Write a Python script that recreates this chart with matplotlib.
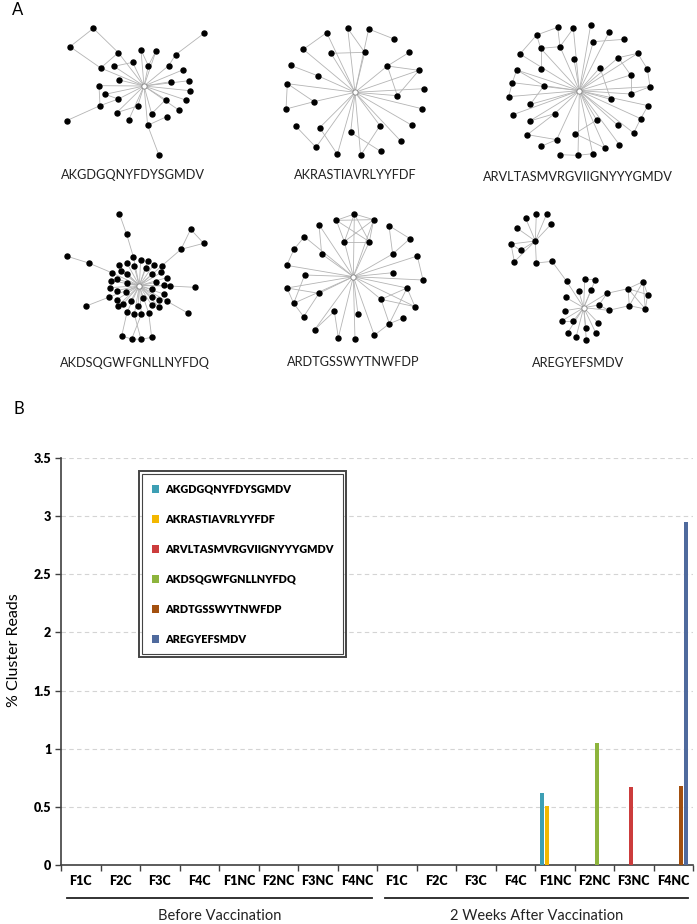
import numpy as np
import matplotlib
matplotlib.use("Agg")
import matplotlib.pyplot as plt
from matplotlib.collections import LineCollection
from matplotlib.patches import Rectangle
import matplotlib.transforms as mtransforms

plt.rcParams['font.family'] = ['Lato', 'DejaVu Sans']

# ---------------- panel A: cluster networks ----------------
# node layouts (layout units, 3 units = 1 px), index 0 is the centre node
net1_nodes = [(432, 258), (280, 85), (210, 140), (612, 100), (355, 158), (423, 150), (468, 153),
              (527, 164), (302, 204), (342, 199), (398, 187), (445, 197), (506, 197), (550, 209),
              (358, 240), (297, 257), (513, 245), (568, 242), (315, 283), (355, 297), (569, 272),
              (557, 300), (300, 317), (413, 318), (497, 299), (536, 330), (350, 338), (455, 341),
              (386, 360), (500, 350), (443, 376), (200, 362), (477, 466)]
net1_spokes = [4, 5, 6, 8, 9, 10, 11, 12, 13, 14, 15, 16, 17, 18, 19, 20, 21, 23, 24, 25, 26,
               27, 28, 30]
net1_links = [(1, 2), (1, 4), (2, 8), (3, 7), (7, 12), (6, 11), (9, 10), (4, 8), (15, 22),
              (18, 19), (19, 22), (22, 31), (23, 26), (24, 27), (29, 30), (30, 32), (11, 5)]

net2_nodes = [(345, 277), (260, 98), (323, 85), (386, 87), (462, 117), (190, 148), (273, 160),
              (374, 157), (508, 157), (152, 196), (442, 198), (537, 211), (235, 228), (142, 251),
              (552, 266), (472, 287), (222, 305), (138, 327), (545, 326), (167, 378), (239, 383),
              (420, 377), (516, 376), (332, 397), (483, 424), (228, 442), (292, 463), (362, 466),
              (422, 454)]
net2_spokes = [1, 2, 3, 5, 6, 7, 10, 11, 12, 13, 14, 15, 16, 18, 20, 21, 22, 23, 24, 25, 26, 27]
net2_links = [(1, 5), (2, 7), (3, 4), (6, 7), (8, 10), (10, 11), (10, 15), (11, 15), (9, 12),
              (13, 16), (13, 17), (17, 16), (19, 25), (20, 26), (23, 28), (21, 27)]

net3_nodes = [(328, 272), (263, 82), (310, 85), (362, 75), (418, 95), (200, 105), (212, 145),
              (270, 140), (370, 125), (462, 118), (150, 162), (312, 178), (503, 160), (445, 173),
              (140, 210), (212, 208), (390, 203), (532, 207), (482, 225), (127, 248), (222, 257),
              (540, 260), (116, 290), (482, 282), (422, 298), (181, 313), (534, 317), (129, 344),
              (254, 341), (179, 363), (380, 360), (512, 356), (443, 376), (172, 404), (315, 401),
              (260, 419), (491, 399), (213, 439), (405, 444), (448, 434), (270, 464), (324, 466),
              (368, 461)]
net3_spokes = [2, 3, 4, 6, 7, 8, 10, 11, 12, 13, 14, 16, 18, 19, 20, 21, 22, 23, 24, 25, 26, 27,
               28, 29, 30, 31, 32, 35, 36, 38, 39, 41, 42]
net3_links = [(1, 5), (1, 7), (2, 7), (5, 6), (5, 10), (6, 7), (6, 15), (8, 9), (12, 13),
              (12, 17), (13, 18), (16, 24), (17, 21), (18, 23), (14, 19), (14, 20), (19, 22),
              (20, 25), (26, 31), (31, 36), (28, 33), (28, 29), (33, 35), (35, 37), (30, 34),
              (34, 38), (40, 41), (41, 42), (21, 23)]

net4_nodes = [(418, 272), (358, 56), (380, 118), (400, 185), (572, 103), (611, 145), (543, 163),
              (486, 212), (202, 184), (266, 204), (585, 277), (259, 333), (565, 355), (365, 423),
              (395, 432), (423, 433), (455, 427),
              (422, 196), (443, 197), (356, 211), (380, 203), (402, 213), (438, 218), (461, 209),
              (335, 233), (362, 228), (381, 236), (456, 237), (484, 232), (500, 248), (350, 252),
              (332, 257), (381, 264), (469, 262), (492, 271), (510, 273), (330, 278), (350, 287),
              (377, 290), (457, 283), (491, 297), (328, 306), (350, 314), (428, 310), (455, 306),
              (478, 314), (500, 318), (392, 318), (370, 326), (354, 332), (414, 332), (455, 330),
              (477, 336), (381, 352), (403, 358), (424, 358), (446, 354)]
net4_spokes = [3, 7] + list(range(17, 57))
net4_links = [(1, 2), (2, 3), (4, 5), (5, 6), (4, 6), (6, 7), (8, 9), (9, 24), (10, 35),
              (11, 41), (12, 46), (13, 53), (13, 14), (14, 15), (15, 16), (16, 56), (14, 55),
              (15, 54)]

net5_nodes = [(340, 245), (343, 57), (289, 76), (401, 74), (237, 89), (447, 92), (313, 140),
              (388, 140), (193, 125), (510, 131), (162, 163), (245, 177), (458, 177), (532, 183),
              (140, 211), (194, 240), (459, 233), (549, 255), (141, 279), (237, 295), (501, 279),
              (161, 325), (423, 313), (525, 335), (283, 349), (354, 358), (191, 365), (488, 370),
              (448, 386), (224, 404), (295, 428), (345, 433), (403, 421)]
net5_spokes = [1, 3, 4, 6, 7, 8, 11, 12, 13, 14, 15, 16, 17, 18, 19, 20, 21, 22, 23, 25, 29,
               30, 31, 32]
net5_links = [(1, 2), (1, 3), (2, 3), (1, 6), (1, 7), (2, 7), (3, 6), (6, 7), (2, 6), (3, 7),
              (4, 11), (5, 9), (5, 12), (9, 12), (8, 10), (10, 14), (13, 17), (15, 21), (18, 21),
              (18, 19), (19, 26), (20, 22), (20, 28), (20, 23), (22, 23), (22, 28), (24, 29),
              (24, 30), (32, 28), (27, 28), (26, 21)]

net6_nodes = [(341, 338), (196, 138), (167, 70), (199, 56), (230, 57), (243, 88), (142, 100),
              (123, 147), (152, 166), (133, 200), (199, 204), (246, 199), (290, 259), (344, 253),
              (376, 254), (326, 288), (364, 285), (287, 307), (411, 295), (387, 330), (284, 347),
              (416, 346), (275, 378), (310, 378), (385, 384), (348, 399), (293, 413), (378, 415),
              (318, 427), (349, 434), (474, 281), (519, 260), (533, 299), (478, 332), (526, 342)]
net6_spokes = [12, 13, 14, 15, 16, 17, 18, 19, 20, 21, 22, 23, 24, 25, 26, 27, 28, 29]
net6_links = [(1, 2), (1, 3), (1, 4), (1, 5), (1, 6), (1, 7), (1, 8), (1, 9), (1, 10), (7, 8),
              (7, 9), (10, 11), (11, 12), (13, 14), (18, 19), (18, 30), (21, 33), (30, 31),
              (30, 32), (30, 33), (30, 34), (31, 32), (31, 33), (31, 34), (32, 34), (33, 34),
              (22, 23), (19, 21)]

cdr3_names = ['AKGDGQNYFDYSGMDV', 'AKRASTIAVRLYYFDF', 'ARVLTASMVRGVIIGNYYYGMDV',
              'AKDSQGWFGNLLNYFDQ', 'ARDTGSSWYTNWFDP', 'AREGYEFSMDV']

networks = [(net1_nodes, net1_spokes, net1_links), (net2_nodes, net2_spokes, net2_links),
            (net3_nodes, net3_spokes, net3_links), (net4_nodes, net4_spokes, net4_links),
            (net5_nodes, net5_spokes, net5_links), (net6_nodes, net6_spokes, net6_links)]
# placement of each network on the panel (px) and of its caption
origins = [(0, 0), (240, 0), (470, 0), (0, 195), (240, 195), (470, 195)]
captions = [(133, 175), (355, 175), (578, 177), (135, 363), (353, 362), (578, 363)]

# ---------------- panel B: bar chart ----------------
samples = ['F1C', 'F2C', 'F3C', 'F4C', 'F1NC', 'F2NC', 'F3NC', 'F4NC',
           'F1C', 'F2C', 'F3C', 'F4C', 'F1NC', 'F2NC', 'F3NC', 'F4NC']
groups = ['Before Vaccination', '2 Weeks After Vaccination']
akgdg = [0, 0, 0, 0, 0, 0, 0, 0, 0, 0, 0, 0, 0.62, 0, 0, 0]
akras = [0, 0, 0, 0, 0, 0, 0, 0, 0, 0, 0, 0, 0.51, 0, 0, 0]
arvlt = [0, 0, 0, 0, 0, 0, 0, 0, 0, 0, 0, 0, 0, 0, 0.67, 0]
akdsq = [0, 0, 0, 0, 0, 0, 0, 0, 0, 0, 0, 0, 0, 1.05, 0, 0]
ardtg = [0, 0, 0, 0, 0, 0, 0, 0, 0, 0, 0, 0, 0, 0, 0, 0.68]
aregy = [0, 0, 0, 0, 0, 0, 0, 0, 0, 0, 0, 0, 0, 0, 0, 2.95]
series = [akgdg, akras, arvlt, akdsq, ardtg, aregy]
colors = ['#3d9fb4', '#f3b700', '#cc3c3c', '#8db43c', '#a3500f', '#4f6a9d']

W, H = 697, 924
fig = plt.figure(figsize=(W / 100, H / 100), dpi=100)

# panel A in pixel coordinates
axA = fig.add_axes([0, 1 - 380 / H, 1, 380 / H])
axA.set_xlim(0, W)
axA.set_ylim(380, 0)
axA.axis('off')

for (nodes, spokes, links), (ox, oy), (cx, cy), name in zip(networks, origins, captions, cdr3_names):
    pts = np.array(nodes, dtype=float) / 3.0 + np.array([ox, oy])
    segs = [[pts[0], pts[k]] for k in spokes] + [[pts[a], pts[b]] for a, b in links]
    axA.add_collection(LineCollection(segs, colors='#b4b4b4', linewidths=0.6, zorder=1))
    axA.plot(pts[1:, 0], pts[1:, 1], 'o', color='black', ms=3.6, zorder=2)
    axA.plot(pts[0, 0], pts[0, 1], 'o', mfc='white', mec='#808080', mew=0.6, ms=3.8, zorder=3)
    axA.text(cx, cy, name, ha='center', va='center', fontsize=9.2, color='#222222')

fig.text(18 / W, 1 - 10 / H, 'A', fontsize=12, ha='center', va='center')
fig.text(19 / W, 1 - 409 / H, 'B', fontsize=12, ha='center', va='center')

# panel B
left, right, top, bottom = 61, 693, 458, 865
ax = fig.add_axes([left / W, 1 - bottom / H, (right - left) / W, (bottom - top) / H])
x = np.arange(len(samples))
step = 0.127
for i, (vals, col, name) in enumerate(zip(series, colors, cdr3_names)):
    ax.bar(x + (i - 2.5) * step, vals, width=0.105, color=col, label=name, zorder=3)

ax.set_xlim(-0.5, len(samples) - 0.5)
ax.set_ylim(0, 3.5)
ax.set_yticks(np.arange(0, 3.51, 0.5))
ax.set_yticklabels(['%g' % v for v in np.arange(0, 3.51, 0.5)], fontsize=9, fontweight='heavy')
ax.yaxis.grid(True, ls=(0, (4, 3)), color='#d4d4d4', lw=0.8, zorder=0)
ax.set_axisbelow(True)

ax.set_xticks(np.arange(-0.5, len(samples)), labels=[])
ax.set_xticks(x, labels=samples, minor=True, fontsize=9, fontweight='heavy')
ax.tick_params(axis='x', which='major', length=4, width=1, color='#404040', direction='out')
ax.tick_params(axis='x', which='minor', length=0, pad=7)
ax.tick_params(axis='y', length=4, width=1, color='#404040', pad=3)
for s in ['top', 'right']:
    ax.spines[s].set_visible(False)
for s in ['left', 'bottom']:
    ax.spines[s].set_color('#404040')
    ax.spines[s].set_linewidth(1.2)

ax.set_ylabel('% Cluster Reads', fontsize=11.5)
ax.yaxis.set_label_coords((21 - left) / (right - left), (bottom - 650) / (bottom - top))

# group underlines and labels
trans = mtransforms.blended_transform_factory(ax.transData, ax.transAxes)
y_line = (bottom - 898) / (bottom - top)
y_text = (bottom - 916) / (bottom - top)
for g, (x0, x1) in enumerate([(-0.35, 7.37), (7.7, 15.37)]):
    ax.plot([x0, x1], [y_line, y_line], color='#222222', lw=1.3, transform=trans, clip_on=False)
    ax.text((x0 + x1) / 2, y_text, groups[g], transform=trans, ha='center', va='center',
            fontsize=10.5, color='#222222')

leg = ax.legend(loc='upper left', bbox_to_anchor=((142 - left) / (right - left), (bottom - 474) / (bottom - top)),
                prop={'size': 7.8, 'weight': 'heavy'}, handlelength=0.7, handleheight=0.7,
                handletextpad=0.5, labelspacing=1.75, borderpad=0.9, fancybox=False,
                edgecolor='#444444', framealpha=1, borderaxespad=0)
leg.get_frame().set_linewidth(0.8)
fig.canvas.draw()
bb = leg.get_window_extent()
pad = 3
fig.patches.append(Rectangle((bb.x0 - pad, bb.y0 - pad), bb.width + 2 * pad, bb.height + 2 * pad,
                             fill=False, ec='#444444', lw=1.4, transform=None, figure=fig))

fig.savefig('out.png', dpi=100)
